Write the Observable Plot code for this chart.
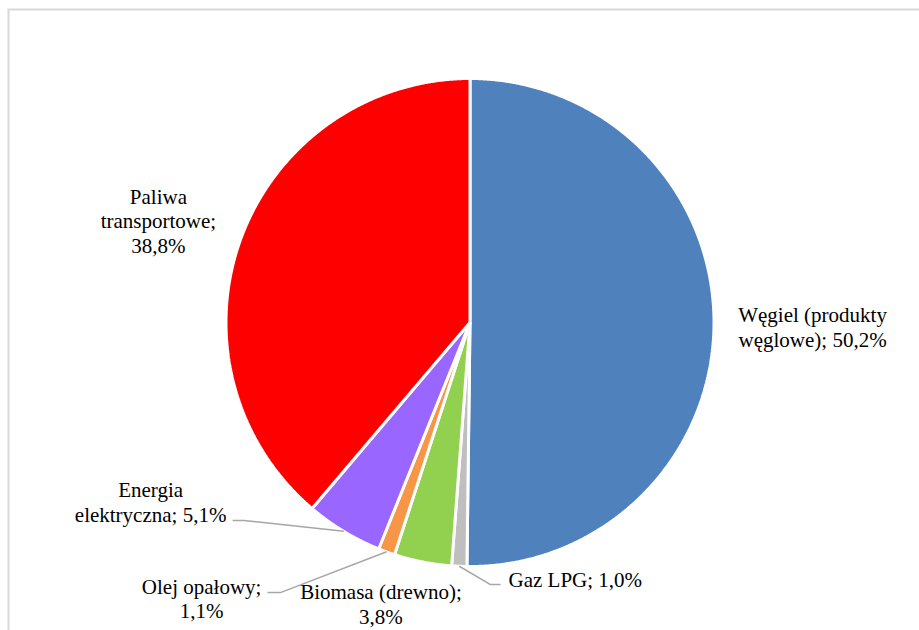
<!DOCTYPE html>
<html>
<head>
<meta charset="utf-8">
<script src="https://cdn.jsdelivr.net/npm/d3@7"></script>
<script src="https://cdn.jsdelivr.net/npm/@observablehq/plot@0.6"></script>
<style>
  html, body { margin: 0; padding: 0; background: #fff; overflow: hidden; }
</style>
</head>
<body>
<div id="chart"></div>
<script>
// ---- Data ----
const categories = ["Węgiel (produkty węglowe)", "Gaz LPG", "Biomasa (drewno)", "Olej opałowy", "Energia elektryczna", "Paliwa transportowe"];
const values = [50.2, 1.0, 3.8, 1.1, 5.1, 38.8];
const valueLabels = ["50,2%", "1,0%", "3,8%", "1,1%", "5,1%", "38,8%"];
const colors = ["#4F81BD", "#BFBFBF", "#92D050", "#F79646", "#9966FF", "#FF0000"];

// ---- Layout (pie units: radius = 1) ----
const W = 919, H = 630, R = 244, CX = 469.5, CY = 322;
const labelLayout = {
  "Węgiel (produkty węglowe)": {x: 1.404, y: -0.016, anchor: "middle", breaks: [1]},
  "Gaz LPG": {x: 0.158, y: -1.053, anchor: "start", breaks: []},
  "Biomasa (drewno)": {x: -0.365, y: -1.152, anchor: "middle", breaks: [1]},
  "Olej opałowy": {x: -1.100, y: -1.129, anchor: "middle", breaks: [1]},
  "Energia elektryczna": {x: -1.309, y: -0.734, anchor: "middle", breaks: [0]},
  "Paliwa transportowe": {x: -1.277, y: 0.418, anchor: "middle", breaks: [0, 1]}
};
const leaderLayout = {
  "Gaz LPG": {r: 1.0, elbow: [0.084, -1.074], end: [0.125, -1.074]},
  "Olej opałowy": {r: 1.0, elbow: [-0.777, -1.107], end: [-0.830, -1.107]},
  "Energia elektryczna": {r: 1.0, elbow: [-0.928, -0.811], end: [-0.973, -0.811]}
};

// ---- Build geometry from data ----
const arcs = d3.pie().sort(null).value(d => d)(values);
const slicePts = [];
arcs.forEach((a, i) => {
  const n = Math.max(4, Math.ceil((a.endAngle - a.startAngle) / 0.004));
  slicePts.push({name: categories[i], x: 0, y: 0});
  for (let k = 0; k <= n; k++) {
    const t = a.startAngle + (a.endAngle - a.startAngle) * k / n;
    slicePts.push({name: categories[i], x: Math.sin(t), y: Math.cos(t)});
  }
});

const labels = categories.map((c, i) => {
  const L = labelLayout[c];
  const words = (c + "; " + valueLabels[i]).split(" ");
  let lines = [], cur = [];
  words.forEach((w, k) => { cur.push(w); if (L.breaks.includes(k)) { lines.push(cur.join(" ")); cur = []; } });
  if (cur.length) lines.push(cur.join(" "));
  return {name: c, x: L.x, y: L.y, anchor: L.anchor, text: lines.join("\n")};
});

const leaderPts = [];
categories.forEach((c, i) => {
  const L = leaderLayout[c];
  if (!L) return;
  const mid = (arcs[i].startAngle + arcs[i].endAngle) / 2;
  leaderPts.push({name: c, x: L.r * Math.sin(mid), y: L.r * Math.cos(mid)});
  leaderPts.push({name: c, x: L.elbow[0], y: L.elbow[1]});
  leaderPts.push({name: c, x: L.end[0], y: L.end[1]});
});

const font = "'Liberation Serif', 'Times New Roman', serif";

const chart = Plot.plot({
  width: W,
  height: H,
  margin: 0,
  x: {domain: [-CX / R, (W - CX) / R], axis: null},
  y: {domain: [-(H - CY) / R, CY / R], axis: null},
  color: {domain: categories, range: colors},
  style: {background: "#fff", fontFamily: font},
  marks: [
    Plot.frame({stroke: "#D9D9D9", strokeWidth: 2, insetLeft: 8, insetTop: 9, insetRight: -20, insetBottom: -20}),
    Plot.line(slicePts, {x: "x", y: "y", z: "name", fill: "name", stroke: "white", strokeWidth: 3, strokeLinejoin: "miter", curve: "linear-closed"}),
    Plot.line(leaderPts, {x: "x", y: "y", z: "name", stroke: "#A6A6A6", strokeWidth: 1.5, strokeLinejoin: "miter", strokeLinecap: "butt"}),
    Plot.text(labels.filter(d => d.anchor === "middle"), {x: "x", y: "y", text: "text", textAnchor: "middle", fontSize: 21, fontFamily: font, lineHeight: 1.17, fill: "#000"}),
    Plot.text(labels.filter(d => d.anchor === "start"), {x: "x", y: "y", text: "text", textAnchor: "start", fontSize: 21, fontFamily: font, lineHeight: 1.17, fill: "#000"})
  ]
});
document.getElementById("chart").appendChild(chart);
</script>
</body>
</html>
